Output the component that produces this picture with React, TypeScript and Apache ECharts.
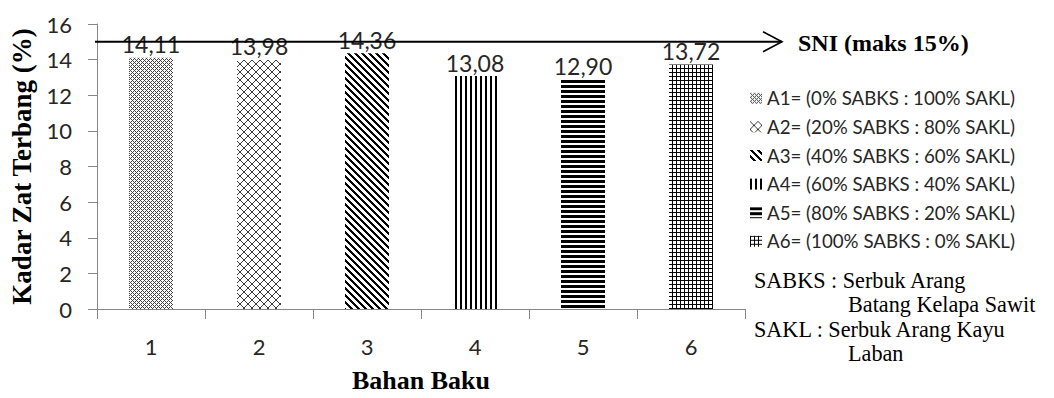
import React, { useEffect, useRef } from "react";
import * as echarts from "echarts";

// Bahan baku (raw material mix) categories and measured volatile matter (%)
const categories = ["1", "2", "3", "4", "5", "6"];
const kadarZatTerbang = [14.11, 13.98, 14.36, 13.08, 12.9, 13.72];
const seriesNames = [
  "A1= (0% SABKS : 100% SAKL)",
  "A2= (20% SABKS : 80% SAKL)",
  "A3= (40% SABKS : 60% SAKL)",
  "A4= (60% SABKS : 40% SAKL)",
  "A5= (80% SABKS : 20% SAKL)",
  "A6= (100% SABKS : 0% SAKL)",
];
const yMin = 0;
const yMax = 16;
const yInterval = 2;
const sniLimit = 15;
const sniLabel = "SNI (maks 15%)";
// abbreviation notes; continuation lines are indented
const notes = [
  { text: "SABKS : Serbuk Arang", indent: false },
  { text: "Batang Kelapa Sawit", indent: true },
  { text: "SAKL : Serbuk Arang Kayu", indent: false },
  { text: "Laban", indent: true },
];

type Painter = (x: number, y: number) => string | null;

function tile(w: number, h: number, paint: Painter): HTMLCanvasElement {
  const c = document.createElement("canvas");
  c.width = w;
  c.height = h;
  const ctx = c.getContext("2d")!;
  ctx.fillStyle = "#ffffff";
  ctx.fillRect(0, 0, w, h);
  for (let y = 0; y < h; y++) {
    for (let x = 0; x < w; x++) {
      const col = paint(x, y);
      if (col) {
        ctx.fillStyle = col;
        ctx.fillRect(x, y, 1, 1);
      }
    }
  }
  return c;
}

function makePatterns() {
  // fine grey lattice
  const a1 = tile(4, 4, (x, y) =>
    (x + y) % 4 === 0 || (((x - y) % 4) + 4) % 4 === 0 ? "#404040" : null
  );
  // diamond lattice
  const a2 = tile(8, 8, (x, y) =>
    x === y || x === 7 - y ? "#3a3a3a" : null
  );
  // wide downward diagonal
  const a3 = tile(7, 7, (x, y) => {
    const d = (((x - y) % 7) + 7) % 7;
    return d <= 2 ? "#000000" : null;
  });
  // vertical stripes
  const a4 = tile(5, 1, (x) => (x <= 1 ? "#000000" : null));
  // horizontal stripes
  const a5 = tile(1, 5, (_x, y) => (y <= 2 ? "#000000" : null));
  // small grid
  const a6 = tile(4, 4, (x, y) => (x === 0 || y === 0 ? "#000000" : null));
  return [a1, a2, a3, a4, a5, a6].map((image) => ({
    image,
    repeat: "repeat",
  }));
}

export default function App() {
  const ref = useRef<HTMLDivElement>(null);

  useEffect(() => {
    if (!ref.current) return;
    const chart = echarts.init(ref.current, undefined, { renderer: "svg" });
    const patterns = makePatterns();

    const series = seriesNames.map((name, i) => ({
      type: "bar",
      name,
      data: kadarZatTerbang.map((v, j) => (j === i ? v : "-")),
      barWidth: 44,
      barGap: "-100%",
      itemStyle: { color: patterns[i] },
      label: {
        show: true,
        position: "top",
        distance: 2,
        fontFamily: "Lato",
        fontSize: 23,
        color: "#262626",
        formatter: (p: any) => Number(p.value).toFixed(2).replace(".", ","),
      },
    }));

    chart.setOption({
      animation: false,
      backgroundColor: "#ffffff",
      grid: { left: 97, right: 309, top: 24, bottom: 82 },
      xAxis: {
        type: "category",
        data: categories,
        boundaryGap: true,
        name: "Bahan Baku",
        nameLocation: "middle",
        nameGap: 58,
        nameTextStyle: {
          fontFamily: "Liberation Serif",
          fontWeight: "bold",
          fontSize: 26,
          color: "#000000",
        },
        axisLine: { lineStyle: { color: "#868686", width: 1 } },
        axisTick: { show: true, length: 10, lineStyle: { color: "#868686" } },
        axisLabel: {
          margin: 26,
          fontFamily: "Lato",
          fontSize: 22,
          color: "#262626",
        },
      },
      yAxis: {
        type: "value",
        min: yMin,
        max: yMax,
        interval: yInterval,
        name: "Kadar Zat Terbang (%)",
        nameLocation: "middle",
        nameGap: 60,
        nameTextStyle: {
          fontFamily: "Liberation Serif",
          fontWeight: "bold",
          fontSize: 27,
          color: "#000000",
        },
        axisLine: { show: true, lineStyle: { color: "#868686", width: 1 } },
        axisTick: { show: true, length: 9, lineStyle: { color: "#868686" } },
        splitLine: { show: false },
        axisLabel: {
          margin: 25,
          fontFamily: "Lato",
          fontSize: 22,
          color: "#262626",
        },
      },
      legend: {
        orient: "vertical",
        left: 750,
        top: 88,
        padding: 0,
        itemWidth: 12,
        itemHeight: 11,
        itemGap: 8,
        icon: "rect",
        textStyle: {
          fontFamily: "Lato",
          fontSize: 18.7,
          color: "#262626",
          lineHeight: 20.6,
        },
        data: seriesNames,
      },
      series,
    });

    const ySni = chart.convertToPixel({ yAxisIndex: 0 }, sniLimit) as number;
    const arrowStart = 95;
    const arrowTip = 782;

    chart.setOption({
      graphic: [
        {
          type: "line",
          z: 100,
          shape: { x1: arrowStart, y1: ySni, x2: arrowTip, y2: ySni },
          style: { stroke: "#000000", lineWidth: 2 },
        },
        {
          type: "polyline",
          z: 100,
          shape: {
            points: [
              [arrowTip - 19, ySni - 10],
              [arrowTip, ySni],
              [arrowTip - 19, ySni + 10],
            ],
          },
          style: { stroke: "#000000", lineWidth: 1.6, fill: null },
        },
        {
          type: "text",
          z: 100,
          x: 798,
          y: ySni + 1,
          style: {
            text: sniLabel,
            fontFamily: "Liberation Serif",
            fontWeight: "bold",
            fontSize: 24,
            fill: "#000000",
            verticalAlign: "middle",
          },
        },
        ...notes.map((n, i) => ({
          type: "text",
          x: n.indent ? 848 : 754,
          y: 280 + i * 24.6,
          style: {
            text: n.text,
            fontFamily: "Liberation Serif",
            fontSize: 22.2,
            lineHeight: 24,
            fill: "#000000",
            verticalAlign: "middle",
          },
        })),
      ],
    });

    return () => chart.dispose();
  }, []);

  return (
    <div
      ref={ref}
      style={{ position: "fixed", left: 0, top: 0, width: 1054, height: 398 }}
    />
  );
}
